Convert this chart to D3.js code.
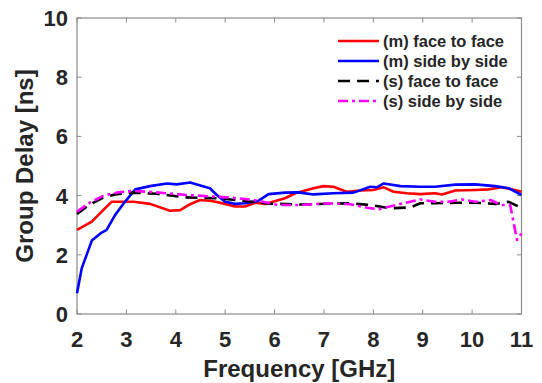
<!DOCTYPE html>
<html lang="en">
<head>
    <meta charset="UTF-8">
    <title>Group Delay</title>
    <script src="https://d3js.org/d3.v7.min.js"></script>
    <style>
        body { margin: 0; background: #fff; }
        text { font-family: "Liberation Sans", Arial, sans-serif; font-weight: bold; fill: #262626; }
    </style>
</head>
<body>
    <div id="chart"></div>
    <script>
        // readings taken off the measured curves
        const mFaceFreq = [2, 2.3, 2.53, 2.7, 3.14, 3.48, 3.88, 4.09, 4.29, 4.49, 4.73, 5.0, 5.2, 5.4, 5.61, 5.81, 6.21, 6.42, 6.62, 6.79, 6.99, 7.19, 7.46, 7.73, 8.0, 8.21, 8.41, 8.68, 8.95, 9.25, 9.39, 9.66, 10.06, 10.33, 10.6, 10.87, 11];
        const mFaceDelay = [2.84, 3.12, 3.51, 3.79, 3.79, 3.72, 3.49, 3.51, 3.71, 3.85, 3.82, 3.72, 3.63, 3.63, 3.76, 3.72, 3.91, 4.08, 4.17, 4.25, 4.32, 4.30, 4.13, 4.17, 4.19, 4.28, 4.13, 4.08, 4.05, 4.08, 4.04, 4.17, 4.19, 4.21, 4.28, 4.19, 4.13];

        const mSideFreq = [2, 2.095, 2.3, 2.5, 2.6, 2.77, 2.97, 3.18, 3.48, 3.82, 4.02, 4.29, 4.69, 4.83, 5.0, 5.2, 5.4, 5.67, 5.88, 6.21, 6.48, 6.79, 7.19, 7.6, 7.94, 8.07, 8.21, 8.55, 8.95, 9.25, 9.66, 10.06, 10.47, 10.74, 11];
        const mSideDelay = [0.70, 1.54, 2.48, 2.75, 2.84, 3.34, 3.79, 4.21, 4.32, 4.41, 4.38, 4.44, 4.25, 4.02, 3.79, 3.72, 3.74, 3.82, 4.05, 4.10, 4.11, 4.04, 4.08, 4.10, 4.30, 4.28, 4.41, 4.32, 4.30, 4.30, 4.37, 4.38, 4.32, 4.25, 4.02];

        // simulated curves
        const sFaceFreq = [2, 2.26, 2.53, 2.8, 3.14, 3.61, 4.19, 4.86, 5.54, 5.9, 6.52, 7.53, 7.94, 8.34, 8.75, 8.95, 9.25, 9.66, 10.06, 10.47, 10.74, 10.94, 11];
        const sFaceDelay = [3.38, 3.70, 3.93, 4.05, 4.10, 4.06, 3.94, 3.91, 3.79, 3.73, 3.70, 3.74, 3.68, 3.57, 3.60, 3.74, 3.74, 3.76, 3.76, 3.72, 3.79, 3.63, 3.58];

        const sSideFreq = [2, 2.26, 2.53, 2.8, 3.14, 3.61, 4.22, 4.86, 5.27, 5.67, 6.08, 6.48, 7.06, 7.53, 7.87, 8.11, 8.55, 8.95, 9.25, 9.52, 9.8, 10.06, 10.37, 10.6, 10.77, 10.91, 11];
        const sSideDelay = [3.46, 3.76, 3.99, 4.10, 4.16, 4.11, 4.02, 3.96, 3.91, 3.83, 3.68, 3.68, 3.74, 3.71, 3.59, 3.54, 3.72, 3.87, 3.79, 3.79, 3.87, 3.79, 3.85, 3.68, 3.68, 2.50, 2.72];

        const seriesNames = ["(m) face to face", "(m) side by side", "(s) face to face", "(s) side by side"];
        const xTicks = [2, 3, 4, 5, 6, 7, 8, 9, 10, 11];
        const yTicks = [0, 2, 4, 6, 8, 10];

        const series = [
            { name: seriesNames[0], f: mFaceFreq, v: mFaceDelay, color: "#ff0000", dash: null },
            { name: seriesNames[1], f: mSideFreq, v: mSideDelay, color: "#0000ff", dash: null },
            { name: seriesNames[2], f: sFaceFreq, v: sFaceDelay, color: "#000000", dash: "12,7" },
            { name: seriesNames[3], f: sSideFreq, v: sSideDelay, color: "#ff00ff", dash: "10,4,3,4" }
        ];

        const width = 542, height = 383;
        const margin = { top: 18, right: 20.5, bottom: 69, left: 77 };

        const svg = d3.select("#chart").append("svg")
            .attr("width", width)
            .attr("height", height);

        const x = d3.scaleLinear().domain([2, 11]).range([margin.left, width - margin.right]);
        const y = d3.scaleLinear().domain([0, 10]).range([height - margin.bottom, margin.top]);

        const axisColor = "#8a8a8a";
        const tickLen = 4.5;

        // tick marks on all four sides, pointing inwards
        const axes = svg.append("g");
        axes.selectAll(".xt").data(xTicks).enter().append("line")
            .attr("x1", d => x(d)).attr("x2", d => x(d))
            .attr("y1", y(0)).attr("y2", y(0) - tickLen)
            .attr("stroke", axisColor);
        axes.selectAll(".xt2").data(xTicks).enter().append("line")
            .attr("x1", d => x(d)).attr("x2", d => x(d))
            .attr("y1", y(10)).attr("y2", y(10) + tickLen)
            .attr("stroke", axisColor);
        axes.selectAll(".yt").data(yTicks).enter().append("line")
            .attr("x1", x(2)).attr("x2", x(2) + tickLen)
            .attr("y1", d => y(d)).attr("y2", d => y(d))
            .attr("stroke", axisColor);
        axes.selectAll(".yt2").data(yTicks).enter().append("line")
            .attr("x1", x(11)).attr("x2", x(11) - tickLen)
            .attr("y1", d => y(d)).attr("y2", d => y(d))
            .attr("stroke", axisColor);
        axes.append("rect")
            .attr("x", x(2)).attr("y", y(10))
            .attr("width", x(11) - x(2)).attr("height", y(0) - y(10))
            .attr("fill", "none").attr("stroke", axisColor).attr("stroke-width", 1.2);

        // tick labels
        svg.selectAll(".xl").data(xTicks).enter().append("text")
            .attr("x", d => x(d)).attr("y", 347)
            .attr("text-anchor", "middle")
            .style("font-size", "22px")
            .text(d => d);
        svg.selectAll(".yl").data(yTicks).enter().append("text")
            .attr("x", x(2) - 9).attr("y", d => y(d) + 8)
            .attr("text-anchor", "end")
            .style("font-size", "22px")
            .text(d => d);

        // axis titles
        svg.append("text")
            .attr("x", (x(2) + x(11)) / 2).attr("y", 377)
            .attr("text-anchor", "middle")
            .style("font-size", "24px")
            .text("Frequency [GHz]");
        svg.append("text")
            .attr("transform", "translate(33," + ((y(0) + y(10)) / 2) + ") rotate(-90)")
            .attr("text-anchor", "middle")
            .style("font-size", "24px")
            .text("Group Delay [ns]");

        // curves
        const line = d3.line()
            .x(d => x(d[0]))
            .y(d => y(d[1]));

        svg.selectAll(".curve").data(series).enter().append("path")
            .attr("d", s => line(s.f.map((f, i) => [f, s.v[i]])))
            .attr("fill", "none")
            .attr("stroke", s => s.color)
            .attr("stroke-width", 2.6)
            .attr("stroke-dasharray", s => s.dash)
            .attr("stroke-linejoin", "round");

        // legend
        const legend = svg.append("g").attr("transform", "translate(338,41)");
        const rows = legend.selectAll("g").data(series).enter().append("g")
            .attr("transform", (d, i) => "translate(0," + (i * 20) + ")");
        rows.append("line")
            .attr("x1", 0).attr("x2", 41)
            .attr("stroke", d => d.color)
            .attr("stroke-width", 2.6)
            .attr("stroke-dasharray", d => d.dash);
        rows.append("text")
            .attr("x", 45).attr("y", 5.5)
            .style("font-size", "16.5px")
            .text(d => d.name);
    </script>
</body>
</html>
